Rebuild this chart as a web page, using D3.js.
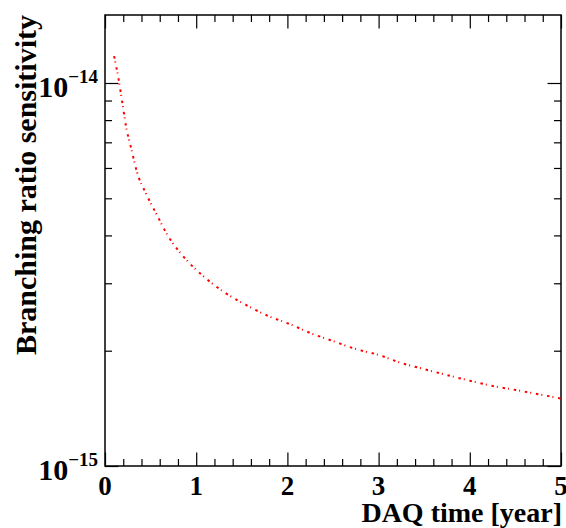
<!DOCTYPE html>
<html>
<head>
<meta charset="utf-8">
<script src="https://cdn.jsdelivr.net/npm/d3@7"></script>
<style>
  body { margin: 0; background: #fff; }
  svg { display: block; }
  text { font-family: "Liberation Serif", "Times New Roman", serif; font-weight: bold; fill: #000; }
</style>
</head>
<body>
<svg id="chart" width="566" height="528"></svg>
<script>
// DAQ time [year] vs branching ratio sensitivity
const daqTime = [0.10, 0.15, 0.19, 0.23, 0.29, 0.35, 0.45, 0.57, 0.69, 0.84, 1.02, 1.12, 1.33, 1.55,
  1.78, 2.02, 2.26, 2.50, 2.75, 3.00, 3.24, 3.50, 3.74, 4.00, 4.24, 4.50, 4.75, 5.00]
const sensitivity = [1.175e-14, 1.02e-14, 8.88e-15, 7.72e-15, 6.71e-15, 5.86e-15, 5.14e-15, 4.52e-15,
  3.99e-15, 3.57e-15, 3.22e-15, 3.07e-15, 2.82e-15, 2.63e-15, 2.47e-15, 2.35e-15, 2.22e-15, 2.12e-15,
  2.02e-15, 1.95e-15, 1.86e-15, 1.79e-15, 1.73e-15, 1.67e-15, 1.62e-15, 1.58e-15, 1.54e-15, 1.50e-15]

const xMajor = [0, 1, 2, 3, 4, 5]
const xMinor = [0.2, 0.4, 0.6, 0.8, 1.2, 1.4, 1.6, 1.8, 2.2, 2.4, 2.6, 2.8, 3.2, 3.4, 3.6, 3.8, 4.2, 4.4, 4.6, 4.8]
const yMajor = [1e-15, 1e-14]
const yMajorLabels = ["−15", "−14"]
const yMinor = [2e-15, 3e-15, 4e-15, 5e-15, 6e-15, 7e-15, 8e-15, 9e-15]

const margin = { top: 15, right: 5, bottom: 62, left: 105 }
const width = 566 - margin.left - margin.right
const height = 528 - margin.top - margin.bottom
const bigTick = 13.5, smallTick = 7

const svg = d3.select('#chart')
const g = svg.append('g').attr('transform', `translate(${margin.left},${margin.top})`)

const x = d3.scaleLinear().domain([0, 5]).range([0, width])
const y = d3.scaleLog().domain([1e-15, 1.505e-14]).range([height, 0])

// ticks on all four sides, pointing into the frame
function tickAxis(gen, values, size, tr) {
  const a = g.append('g').attr('transform', tr)
    .call(gen.tickValues(values).tickSize(size).tickSizeOuter(0).tickFormat(''))
  a.select('.domain').remove()
  a.selectAll('line').attr('stroke', '#000').attr('stroke-width', 1.2)
  return a
}
tickAxis(d3.axisBottom(x), xMajor, -bigTick, `translate(0,${height})`)
tickAxis(d3.axisBottom(x), xMinor, -smallTick, `translate(0,${height})`)
tickAxis(d3.axisTop(x), xMajor, -bigTick, 'translate(0,0)')
tickAxis(d3.axisTop(x), xMinor, -smallTick, 'translate(0,0)')
tickAxis(d3.axisLeft(y), yMajor, -bigTick, 'translate(0,0)')
tickAxis(d3.axisLeft(y), yMinor, -smallTick, 'translate(0,0)')
tickAxis(d3.axisRight(y), yMajor, -bigTick, `translate(${width},0)`)
tickAxis(d3.axisRight(y), yMinor, -smallTick, `translate(${width},0)`)

// frame
g.append('rect').attr('width', width).attr('height', height)
  .attr('fill', 'none').attr('stroke', '#000').attr('stroke-width', 1.5)

// x tick labels
g.selectAll('.xlab').data(xMajor).join('text')
  .attr('class', 'xlab')
  .attr('x', d => x(d)).attr('y', height + 29)
  .attr('text-anchor', 'middle').attr('font-size', 27)
  .text(d => d)

// y tick labels 10^n
yMajor.forEach((v, i) => {
  const t = g.append('text').attr('text-anchor', 'end')
    .attr('x', -7).attr('y', y(v) + 14)
  t.append('tspan').attr('font-size', 30).text('10')
  t.append('tspan').attr('font-size', 19).attr('dy', -14).text(yMajorLabels[i])
})

// axis titles
svg.append('text').attr('x', 562).attr('y', 522)
  .attr('text-anchor', 'end').attr('font-size', 28)
  .text('DAQ time [year]')
svg.append('text').attr('transform', 'translate(36,15) rotate(-90)')
  .attr('text-anchor', 'end').attr('font-size', 30)
  .text('Branching ratio sensitivity')

// sensitivity curve
const pts = daqTime.map((t, i) => [t, sensitivity[i]])
const line = d3.line().x(d => x(d[0])).y(d => y(d[1])).curve(d3.curveMonotoneX)
g.append('path').datum(pts)
  .attr('d', line)
  .attr('fill', 'none')
  .attr('stroke', '#ff0000')
  .attr('stroke-width', 2)
  .attr('stroke-dasharray', '2.5,3,1,4.8')
</script>
</body>
</html>
